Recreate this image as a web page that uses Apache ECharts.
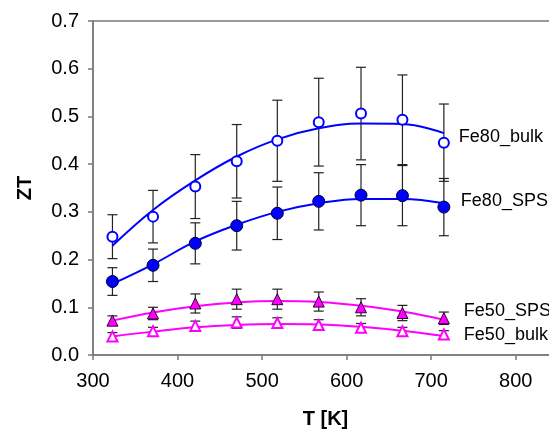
<!DOCTYPE html>
<html>
<head>
<meta charset="utf-8">
<script src="https://cdn.jsdelivr.net/npm/echarts@6/dist/echarts.min.js"></script>
<style>
html,body{margin:0;padding:0;background:#fff;}
#chart{width:549px;height:432px;}
</style>
</head>
<body>
<div id="chart"></div>
<script>
var temps = [323, 371, 421, 470, 518, 567, 617, 666, 715];

var fe80Bulk    = [0.248, 0.290, 0.353, 0.406, 0.449, 0.488, 0.506, 0.493, 0.445];
var fe80BulkErr = [0.046, 0.055, 0.067, 0.077, 0.085, 0.092, 0.097, 0.094, 0.081];
var fe80BulkFit = [0.229, 0.304, 0.366, 0.416, 0.452, 0.475, 0.485, 0.484, 0.465];

var fe80Sps    = [0.154, 0.188, 0.234, 0.271, 0.297, 0.322, 0.335, 0.334, 0.310];
var fe80SpsErr = [0.029, 0.034, 0.043, 0.051, 0.055, 0.060, 0.064, 0.063, 0.060];
var fe80SpsFit = [0.149, 0.190, 0.238, 0.273, 0.300, 0.318, 0.327, 0.327, 0.318];

var fe50Sps    = [0.072, 0.087, 0.108, 0.117, 0.117, 0.112, 0.100, 0.088, 0.077];
var fe50SpsErr = [0.010, 0.013, 0.020, 0.021, 0.021, 0.020, 0.018, 0.016, 0.013];
var fe50SpsFit = [0.072, 0.089, 0.102, 0.110, 0.113, 0.111, 0.103, 0.091, 0.074];

var fe50Bulk    = [0.039, 0.050, 0.061, 0.068, 0.067, 0.063, 0.057, 0.050, 0.043];
var fe50BulkErr = [0.008, 0.008, 0.010, 0.012, 0.011, 0.011, 0.009, 0.008, 0.008];
var fe50BulkFit = [0.039, 0.049, 0.058, 0.063, 0.065, 0.064, 0.059, 0.051, 0.040];

var seriesNames = ['Fe80_bulk', 'Fe80_SPS', 'Fe50_SPS', 'Fe50_bulk'];

var BLUE = '#0000ff', MAG = '#ff00ff', AXIS = '#7a7a7a', FONT = '"Liberation Sans", Arial, sans-serif';

function pairs(ys) { return temps.map(function (t, i) { return [t, ys[i]]; }); }
function errData(ys, es) { return temps.map(function (t, i) { return [t, ys[i] - es[i], ys[i] + es[i]]; }); }

function errSeries(ys, es) {
  return {
    type: 'custom',
    data: errData(ys, es),
    encode: { x: 0, y: [1, 2] },
    z: 2,
    silent: true,
    renderItem: function (params, api) {
      var x = api.value(0);
      var lo = api.coord([x, api.value(1)]);
      var hi = api.coord([x, api.value(2)]);
      var w = 5;
      var st = { stroke: '#222', lineWidth: 1.2 };
      return {
        type: 'group',
        children: [
          { type: 'line', shape: { x1: lo[0], y1: lo[1], x2: hi[0], y2: hi[1] }, style: st },
          { type: 'line', shape: { x1: lo[0] - w, y1: lo[1], x2: lo[0] + w, y2: lo[1] }, style: st },
          { type: 'line', shape: { x1: hi[0] - w, y1: hi[1], x2: hi[0] + w, y2: hi[1] }, style: st }
        ]
      };
    }
  };
}

function fitSeries(name, ys, color, off) {
  return {
    name: name,
    type: 'line',
    data: pairs(ys),
    smooth: 0.4,
    showSymbol: false,
    symbol: 'none',
    z: 3,
    lineStyle: { color: color, width: 2 },
    silent: true,
    endLabel: {
      show: true,
      formatter: name,
      distance: 0,
      offset: off,
      color: '#000',
      fontSize: 18,
      fontFamily: FONT
    }
  };
}

function markSeries(ys, symbol, fill, border, bw, size) {
  return {
    type: 'scatter',
    data: pairs(ys),
    symbol: symbol,
    symbolSize: size,
    z: 4,
    itemStyle: { color: fill, borderColor: border, borderWidth: bw, opacity: 1 }
  };
}

var chart = echarts.init(document.getElementById('chart'), null, { renderer: 'canvas' });
chart.setOption({
  animation: false,
  backgroundColor: '#fff',
  grid: { left: 93, right: -9, top: 21, bottom: 77, outerBoundsMode: 'none', containLabel: false,
    show: true, borderColor: AXIS, borderWidth: 1.5, backgroundColor: 'transparent' },
  xAxis: {
    type: 'value', min: 300, max: 850, interval: 100,
    name: 'T [K]', nameLocation: 'middle', nameGap: 54,
    nameTextStyle: { fontSize: 20, fontWeight: 'bold', color: '#000', fontFamily: FONT },
    axisLine: { show: true, lineStyle: { color: AXIS, width: 1.5 } },
    axisTick: { show: true, length: 5, lineStyle: { color: AXIS, width: 1.5 } },
    axisLabel: { fontSize: 20, color: '#000', fontFamily: FONT, margin: 16,
      formatter: function (v) { return v > 800 ? '' : String(v); } },
    splitLine: { show: false }
  },
  yAxis: {
    type: 'value', min: 0, max: 0.7, interval: 0.1,
    name: 'ZT', nameLocation: 'middle', nameGap: 58,
    nameTextStyle: { fontSize: 20, fontWeight: 'bold', color: '#000', fontFamily: FONT },
    axisLine: { show: true, lineStyle: { color: AXIS, width: 1.5 } },
    axisTick: { show: true, length: 5, lineStyle: { color: AXIS, width: 1.5 } },
    axisLabel: { fontSize: 20, color: '#000', fontFamily: FONT, margin: 14,
      formatter: function (v) { return v.toFixed(1); } },
    splitLine: { show: false }
  },
  series: [
    errSeries(fe80Bulk, fe80BulkErr),
    errSeries(fe80Sps, fe80SpsErr),
    errSeries(fe50Sps, fe50SpsErr),
    errSeries(fe50Bulk, fe50BulkErr),
    fitSeries(seriesNames[0], fe80BulkFit, BLUE, [15, 4]),
    fitSeries(seriesNames[1], fe80SpsFit, BLUE, [17, -2]),
    fitSeries(seriesNames[2], fe50SpsFit, MAG, [20, -9]),
    fitSeries(seriesNames[3], fe50BulkFit, MAG, [20, -1]),
    markSeries(fe80Bulk, 'circle', '#fff', BLUE, 2, 10),
    markSeries(fe80Sps, 'circle', BLUE, '#000033', 1, 12),
    markSeries(fe50Sps, 'triangle', MAG, '#330033', 1, 11),
    markSeries(fe50Bulk, 'triangle', '#fff', MAG, 2, 10)
  ]
});
</script>
</body>
</html>
